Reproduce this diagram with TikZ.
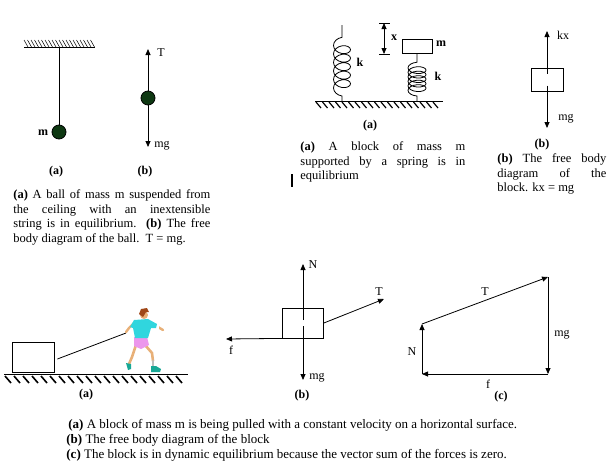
\documentclass[tikz,border=0pt]{standalone}
\usepackage{fontspec}
\setmainfont{Liberation Serif}
\usetikzlibrary{arrows.meta,decorations.pathmorphing}
\definecolor{ballgreen}{RGB}{14,56,18}
\definecolor{shirtcyan}{RGB}{48,214,222}
\definecolor{shortspink}{RGB}{236,150,236}
\definecolor{skintone}{RGB}{232,176,120}
\definecolor{hairbrown}{RGB}{160,72,24}
\definecolor{shoeteal}{RGB}{24,168,150}
\definecolor{sockgrey}{RGB}{190,190,190}
\tikzset{
  force/.style={-{Triangle[length=6pt,width=5pt]}},
  lab/.style={inner sep=0pt, font=\fontsize{12}{14}\selectfont},
  blab/.style={inner sep=0pt, font=\bfseries\fontsize{12}{14}\selectfont},
  capt/.style={inner sep=0pt, anchor=north west, align=justify, font=\fontsize{12.5}{14.8}\selectfont},
  ball/.style={circle, fill=ballgreen, draw=black, minimum size=14pt, inner sep=0pt},
  blockbox/.style={draw, inner sep=0pt},
  springcoil/.style n args={3}{decorate, decoration={coil, aspect=#3, amplitude=#1, segment length=#2, pre length=5pt, post length=5pt}}
}
\begin{document}
\begin{tikzpicture}[x=1pt, y=-1pt, line width=0.8pt]
\useasboundingbox (0,0) rectangle (613,471);

% ball on a string
\draw (24,47) -- (95,47);
\foreach \x in {24,27.5,...,91}
  \draw[line width=0.5pt] (\x,40) -- (\x+4,47);
\coordinate (hook) at (59,47);
\node[ball] (ball1) at (59,132) {};
\draw (hook) -- (ball1);
\node[blab] (m1) at (43,133) {m};
\node[ball] (ball2) at (148,98) {};
\coordinate (Tup) at (148,49);
\coordinate (mgdown) at (148,147);
\draw[force] (ball2) -- (Tup);
\draw[force] (ball2) -- (mgdown);
\node[lab] (T1) at (161,53) {T};
\node[lab] (mg1) at (162,146) {mg};
\node[blab] (a1) at (56,172) {(a)};
\node[blab] (b1) at (145,172) {(b)};
\node[capt, text width=197pt] (cap1) at (13,189) {\textbf{(a)} A ball of mass m suspended from\linebreak the ceiling with an inextensible\linebreak string is in equilibrium. \textbf{(b)} The free\linebreak body diagram of the ball.\ \ T = mg.};

% springs
\draw (315,101) -- (443,101);
\foreach \x in {316,322.5,...,438}
  \draw[line width=1.2pt] (\x,102) -- (\x+5,108);
\coordinate (base1) at (342,101);
\coordinate (top1) at (342,25);
\draw[springcoil={8.5pt}{8.5pt}{0.7}] (base1) -- (top1);
\node[blab] (k1) at (360,62) {k};
\node[blockbox, minimum width=30pt, minimum height=14pt] (mblock) at (417,46) {};
\node[blab] (m2) at (441,44) {m};
\coordinate (base2) at (417,101);
\draw[springcoil={9pt}{4.5pt}{0.5}] (base2) -- (mblock.south);
\node[blab] (k2) at (438,76) {k};
\coordinate (xtop) at (384,23);
\coordinate (xbot) at (384,54);
\draw (379,23) -- (390,23);
\draw (379,54) -- (390,54);
\draw[{Triangle[length=6pt,width=5pt]}-{Triangle[length=6pt,width=5pt]}] (xtop) -- (xbot);
\node[blab] (x1) at (394,38) {x};
\node[blab] (a2) at (370,126) {(a)};
\node[capt, text width=165pt] (cap2) at (300,141) {\textbf{(a)} A block of mass m\linebreak supported by a spring is in\linebreak equilibrium};
\draw[line width=2pt] (292,174) -- (292,187);

% free body of the block on the spring
\node[blockbox, minimum width=32pt, minimum height=23pt] (kblock) at (547,79.5) {};
\coordinate (kxup) at (547,31);
\coordinate (kmg) at (547,128);
\draw[force, shorten <=6pt] (kblock.center) -- (kxup);
\draw[force, shorten <=6pt] (kblock.center) -- (kmg);
\node[lab] (kx) at (563,35) {kx};
\node[lab] (mg2) at (566,119) {mg};
\node[blab] (b2) at (542,145) {(b)};
\node[capt, text width=109pt] (cap3) at (497,153) {\textbf{(b)} The free body\linebreak diagram of the\linebreak block. kx = mg};

% block pulled along the floor
\draw (4,374) -- (188,374);
\foreach \x in {5,14,...,180}
  \draw[line width=1.6pt] (\x,376) -- (\x+6,383);
\node[blockbox, minimum width=42pt, minimum height=30pt] (crate) at (33,357) {};
\coordinate (hand) at (126,333);
\draw ([xshift=3pt,yshift=-2pt]crate.east) -- (hand);
% runner
\draw[skintone, line width=2.6pt, line cap=round, line join=round] (136,345) -- (132,357) -- (129,364);
\draw[skintone, line width=2.6pt, line cap=round, line join=round] (145,345) -- (152,353) -- (153,361);
\draw[sockgrey, line width=2.6pt, line cap=round] (153,361) -- (153,366);
\fill[shoeteal] (126,363) -- (131,364) -- (131,369) -- (128,370) -- cycle;
\fill[shoeteal] (151,366) -- (156,366) -- (161,369) -- (160,372) -- (151,372) -- cycle;
\fill[shortspink] (134,337) -- (147,337) -- (149,345) -- (141,349) -- (134,346) -- cycle;
\draw[skintone, line width=2.4pt, line cap=round, line join=round] (134,323) -- (129,328) -- (126,332);
\draw[skintone, line width=2.4pt, line cap=round, line join=round] (148,323) -- (158,327) -- (163,330);
\fill[white] (156,325) rectangle (159,329);
\fill[shirtcyan] (134,320) -- (148,319) -- (157,324) -- (156,328) -- (151,328) -- (148,338) -- (135,338) -- (133,328) -- (130,327) -- cycle;
\fill[skintone] (144,315) circle (4);
\fill[hairbrown] (139,314) -- (141,309) -- (147,308) -- (149,312) -- (146,312) -- (143,317) -- cycle;
\node[blab] (a3) at (86,395) {(a)};

% free body of the pulled block
\node[blockbox, minimum width=41pt, minimum height=30pt] (fblock) at (303,323) {};
\coordinate (Nup) at (303,264);
\coordinate (mgdn) at (303,380);
\coordinate (fleft) at (226,339);
\coordinate (Tpull) at (384,299);
\draw[force, shorten <=3pt] (fblock.center) -- (Nup);
\draw[force, shorten <=3pt] (fblock.center) -- (mgdn);
\draw[force] (fblock.south west) -- (fleft);
\draw[force] (fblock.east) -- (Tpull);
\node[lab] (N1) at (313,265) {N};
\node[lab] (mg3) at (317,378) {mg};
\node[lab] (f1) at (231,350) {f};
\node[lab] (T2) at (379,292) {T};
\node[blab] (b3) at (302,396) {(b)};

% force polygon
\coordinate (pA) at (422,374);
\coordinate (pB) at (422,324);
\coordinate (pC) at (548,277);
\coordinate (pD) at (548,374);
\draw[force] (pA) -- (pB);
\draw[force] (pB) -- (pC);
\draw[force] (pC) -- (pD);
\draw[force] (pD) -- (pA);
\node[lab] (T3) at (485,292) {T};
\node[lab] (N2) at (412,352) {N};
\node[lab] (mg4) at (562,335) {mg};
\node[lab] (f2) at (488,384) {f};
\node[blab] (c1) at (501,397) {(c)};

\node[capt, align=left, font=\fontsize{13}{15}\selectfont] (cap4) at (66,419) {\hspace{2pt}\textbf{(a)} A block of mass m is being pulled with a constant velocity on a horizontal surface.\\ \textbf{(b)} The free body diagram of the block\\ \textbf{(c)} The block is in dynamic equilibrium because the vector sum of the forces is zero.};
\end{tikzpicture}
\end{document}
